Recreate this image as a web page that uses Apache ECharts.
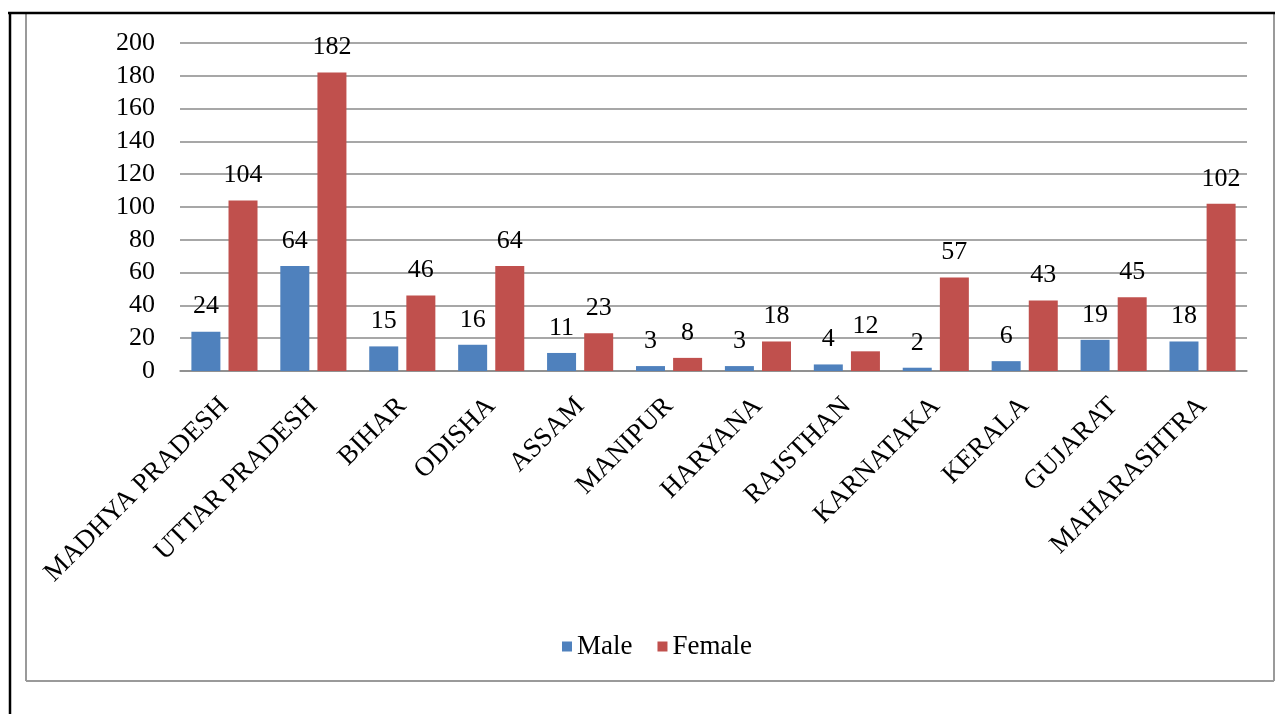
<!DOCTYPE html>
<html>
<head>
<meta charset="utf-8">
<script src="https://cdn.jsdelivr.net/npm/echarts@6/dist/echarts.min.js"></script>
<style>
  html, body { margin: 0; padding: 0; background: #fff; }
  #chart { width: 1275px; height: 714px; }
</style>
</head>
<body>
<div id="chart"></div>
<script>
// States and the number of cases by sex
const states = ['MADHYA PRADESH', 'UTTAR PRADESH', 'BIHAR', 'ODISHA', 'ASSAM', 'MANIPUR',
  'HARYANA', 'RAJSTHAN', 'KARNATAKA', 'KERALA', 'GUJARAT', 'MAHARASHTRA'];
const male = [24, 64, 15, 16, 11, 3, 3, 4, 2, 6, 19, 18];
const female = [104, 182, 46, 64, 23, 8, 18, 12, 57, 43, 45, 102];
const yTicks = { min: 0, max: 200, interval: 20 };

const serif = '"Liberation Serif", "Times New Roman", serif';
const chart = echarts.init(document.getElementById('chart'), null, { renderer: 'canvas' });

const labelStyle = {
  show: true,
  position: 'top',
  distance: 12,
  fontFamily: serif,
  fontSize: 26,
  color: '#000'
};

chart.setOption({
  animation: false,
  backgroundColor: '#fff',
  grid: { left: 180, right: 28, top: 43, bottom: 343, containLabel: false },
  legend: {
    bottom: 49,
    left: 557,
    itemWidth: 10,
    itemHeight: 10,
    itemGap: 25,
    icon: 'rect',
    textStyle: { fontFamily: serif, fontSize: 27, color: '#000', padding: [0, 0, 0, 0] },
    data: ['Male', 'Female']
  },
  xAxis: {
    type: 'category',
    data: states,
    axisLine: { show: true, lineStyle: { color: '#8a8a8a', width: 1.5 } },
    axisTick: { show: false },
    axisLabel: {
      rotate: 45,
      interval: 0,
      margin: 31,
      fontFamily: serif,
      fontSize: 27,
      color: '#000'
    }
  },
  yAxis: {
    type: 'value',
    min: yTicks.min,
    max: yTicks.max,
    interval: yTicks.interval,
    axisLine: { show: false },
    axisTick: { show: false },
    splitLine: { lineStyle: { color: '#8a8a8a', width: 1.5 } },
    axisLabel: {
      margin: 25,
      fontFamily: serif,
      fontSize: 26,
      color: '#000'
    }
  },
  series: [
    {
      name: 'Male',
      type: 'bar',
      data: male,
      barWidth: 29,
      barGap: '28%',
      itemStyle: { color: '#4F81BD' },
      label: labelStyle
    },
    {
      name: 'Female',
      type: 'bar',
      data: female,
      barWidth: 29,
      barGap: '28%',
      itemStyle: { color: '#C0504D' },
      label: labelStyle
    }
  ],
  graphic: [
    // outer frame
    { type: 'line', shape: { x1: 26, y1: 14, x2: 26, y2: 681 }, style: { stroke: '#9a9a9a', lineWidth: 2 }, silent: true },
    { type: 'line', shape: { x1: 26, y1: 681, x2: 1274, y2: 681 }, style: { stroke: '#9a9a9a', lineWidth: 2 }, silent: true },
    { type: 'line', shape: { x1: 1274, y1: 14, x2: 1274, y2: 681 }, style: { stroke: '#9a9a9a', lineWidth: 2 }, silent: true },
    { type: 'line', shape: { x1: 8, y1: 13, x2: 1275, y2: 13 }, style: { stroke: '#000', lineWidth: 2.5 }, silent: true },
    { type: 'line', shape: { x1: 10, y1: 12, x2: 10, y2: 714 }, style: { stroke: '#000', lineWidth: 2.5 }, silent: true }
  ]
});
</script>
</body>
</html>
